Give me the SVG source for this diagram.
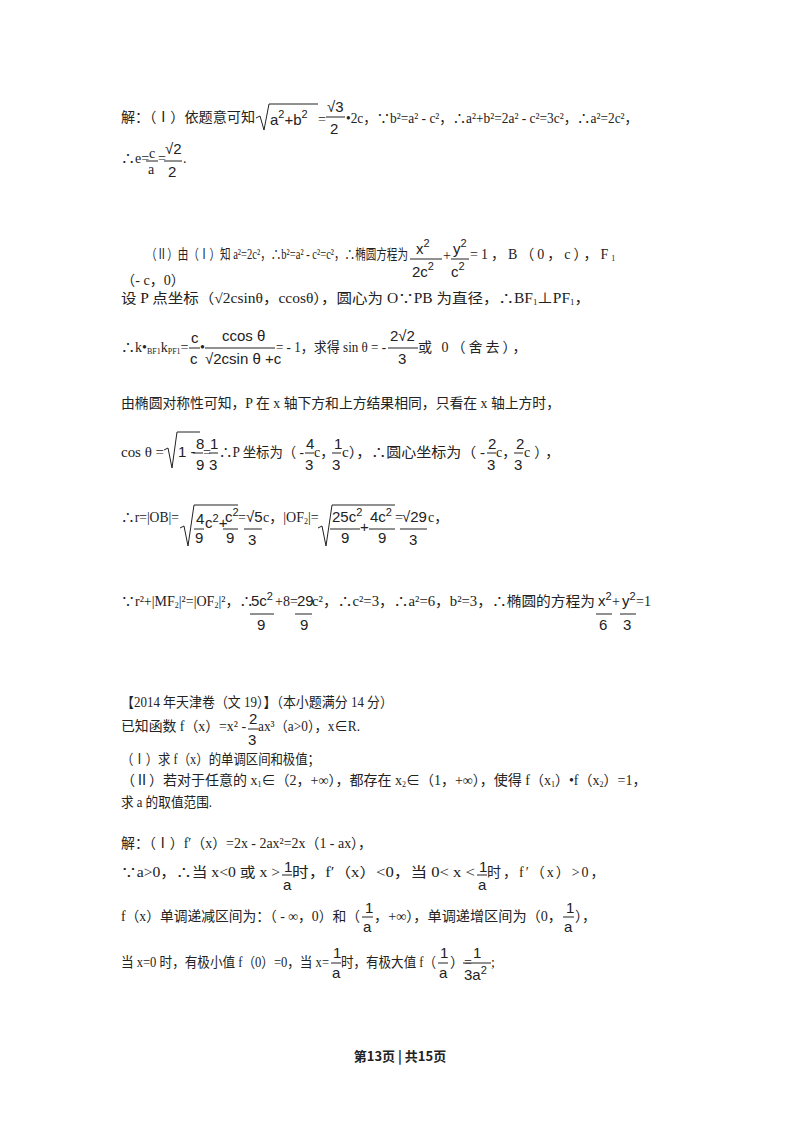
<svg xmlns="http://www.w3.org/2000/svg" width="800" height="1132" viewBox="0 0 800 1132">
<style>
text{font-family:"Liberation Serif","Noto Sans CJK SC",serif;font-size:14px;fill:#222}
.m{font-family:"Liberation Sans","Noto Sans CJK SC",sans-serif;font-size:15px}
.s{font-size:8px}
line{stroke:#222;stroke-width:1}
.f{font-family:"Noto Sans CJK SC",sans-serif;font-weight:bold;font-size:13px}
</style>
<rect width="800" height="1132" fill="#fff"/>
<text x="121" y="122" textLength="134" lengthAdjust="spacingAndGlyphs">解：（Ⅰ）依题意可知</text>
<path d="M256 118 L260 116 L264 130 L269 104 L318 104" fill="none" stroke="#222"/>
<text class="m" x="270" y="125">a<tspan dy="-7" font-size="11">2</tspan><tspan dy="7">+b</tspan><tspan dy="-7" font-size="11">2</tspan></text>
<text x="318" y="124">=</text>
<text class="m" x="327" y="112">√3</text><line x1="326" y1="117" x2="345" y2="117"/><text class="m" x="330" y="134">2</text>
<text x="346" y="123" textLength="292" lengthAdjust="spacingAndGlyphs">•2c，∵b²=a² - c²，∴a²+b²=2a² - c²=3c²，∴a²=2c²，</text>
<text x="121" y="163">∴e=</text><text x="149" y="158">c</text><line x1="146" y1="161" x2="158" y2="161"/><text x="148" y="174">a</text>
<text x="158" y="163">=</text><text class="m" x="165" y="154">√2</text><line x1="164" y1="161" x2="182" y2="161"/><text class="m" x="168" y="177">2</text><text x="183" y="163">.</text>
<text x="146" y="259" font-size="13" textLength="262" lengthAdjust="spacingAndGlyphs">（Ⅱ）由（Ⅰ）知 a²=2c²，∴b²=a² - c²=c²，∴椭圆方程为</text>
<text class="m" x="416" y="254">x<tspan dy="-7" font-size="11">2</tspan></text><line x1="410" y1="259" x2="442" y2="259"/><text class="m" x="412" y="277">2c<tspan dy="-7" font-size="11">2</tspan></text>
<text x="443" y="260" font-size="12">+</text>
<text class="m" x="453" y="254">y<tspan dy="-7" font-size="11">2</tspan></text><line x1="451" y1="259" x2="469" y2="259"/><text class="m" x="451" y="277">c<tspan dy="-7" font-size="11">2</tspan></text>
<text x="470" y="259" letter-spacing="3">=1，B（0，c），F<tspan class="s" dy="2" letter-spacing="0">1</tspan></text>
<text x="121" y="285" textLength="64" lengthAdjust="spacingAndGlyphs">（- c，0）</text>
<text x="121" y="303" textLength="469" lengthAdjust="spacingAndGlyphs">设 P 点坐标（√2csinθ，ccosθ），圆心为 O∵PB 为直径，∴BF<tspan class="s" dy="2">1</tspan><tspan dy="-2">⊥PF</tspan><tspan class="s" dy="2">1</tspan><tspan dy="-2">，</tspan></text>
<text x="121" y="352">∴k•<tspan class="s" dy="2">BF1</tspan><tspan dy="-2">k</tspan><tspan class="s" dy="2">PF1</tspan><tspan dy="-2">=</tspan></text>
<text class="m" x="191" y="343">c</text><line x1="189" y1="348" x2="200" y2="348"/><text class="m" x="190" y="364">c</text>
<text x="200" y="352">•</text>
<text class="m" x="222" y="341">ccos θ</text><line x1="205" y1="348" x2="275" y2="348"/><text class="m" x="205" y="364">√2csin θ +c</text>
<text x="276" y="352" textLength="110" lengthAdjust="spacingAndGlyphs">= - 1，求得 sin θ = -</text>
<text class="m" x="390" y="341">2√2</text><line x1="388" y1="348" x2="418" y2="348"/><text class="m" x="398" y="364">3</text>
<text x="418" y="352" letter-spacing="3">或 0（舍去），</text>
<text x="121" y="408" textLength="439" lengthAdjust="spacingAndGlyphs">由椭圆对称性可知，P 在 x 轴下方和上方结果相同，只看在 x 轴上方时，</text>
<text x="121" y="457" textLength="43" lengthAdjust="spacingAndGlyphs">cos θ =</text>
<path d="M164 450 L168 448 L172 468 L177 432 L200 432" fill="none" stroke="#222"/>
<text class="m" x="178" y="457">1 -</text>
<text class="m" x="196" y="449">8</text><line x1="193" y1="453" x2="203" y2="453"/><text class="m" x="196" y="470">9</text>
<text x="203" y="457">=</text><text class="m" x="210" y="449">1</text><line x1="209" y1="453" x2="218" y2="453"/><text class="m" x="209" y="470">3</text>
<text x="219" y="457" textLength="85" lengthAdjust="spacingAndGlyphs">∴P 坐标为（ -</text><text class="m" x="306" y="449">4</text><line x1="305" y1="453" x2="314" y2="453"/><text class="m" x="305" y="470">3</text>
<text x="314" y="457">c，</text><text class="m" x="334" y="449">1</text><line x1="332" y1="453" x2="341" y2="453"/><text class="m" x="332" y="470">3</text>
<text x="342" y="457" textLength="143" lengthAdjust="spacingAndGlyphs">c），∴圆心坐标为（ -</text><text class="m" x="488" y="449">2</text><line x1="487" y1="453" x2="496" y2="453"/><text class="m" x="487" y="470">3</text>
<text x="496" y="457">c，</text><text class="m" x="516" y="449">2</text><line x1="514" y1="453" x2="523" y2="453"/><text class="m" x="514" y="470">3</text>
<text x="524" y="457" letter-spacing="4">c），</text>
<text x="121" y="522" textLength="58" lengthAdjust="spacingAndGlyphs">∴r=|OB|=</text>
<path d="M180 528 L184 526 L188 546 L194 505 L238 505" fill="none" stroke="#222"/>
<text class="m" x="196" y="524">4</text><line x1="194" y1="529" x2="204" y2="529"/><text class="m" x="195" y="543">9</text>
<text class="m" x="205" y="528">c<tspan dy="-6" font-size="11">2</tspan><tspan dy="6">+</tspan></text>
<text class="m" x="225" y="522">c<tspan dy="-6" font-size="11">2</tspan></text><line x1="223" y1="529" x2="238" y2="529"/><text class="m" x="226" y="543">9</text>
<text x="238" y="522">=</text><text class="m" x="246" y="522">√5</text><line x1="244" y1="529" x2="262" y2="529"/><text class="m" x="248" y="545">3</text>
<text x="263" y="522">c，|OF<tspan class="s" dy="2">2</tspan><tspan dy="-2">|=</tspan></text>
<path d="M318 528 L322 526 L326 546 L332 505 L395 505" fill="none" stroke="#222"/>
<text class="m" x="332" y="522">25c<tspan dy="-6" font-size="11">2</tspan></text><line x1="330" y1="529" x2="360" y2="529"/><text class="m" x="341" y="543">9</text>
<text class="m" x="360" y="532">+</text>
<text class="m" x="370" y="522">4c<tspan dy="-6" font-size="11">2</tspan></text><line x1="369" y1="529" x2="395" y2="529"/><text class="m" x="378" y="543">9</text>
<text x="395" y="522">=</text><text class="m" x="402" y="522">√29</text><line x1="400" y1="529" x2="427" y2="529"/><text class="m" x="409" y="545">3</text>
<text x="428" y="522">c，</text>
<text x="121" y="606">∵r²+|MF<tspan class="s" dy="2">2</tspan><tspan dy="-2">|²=|OF</tspan><tspan class="s" dy="2">2</tspan><tspan dy="-2">|²，∴</tspan></text>
<text class="m" x="251" y="606">5c<tspan dy="-6" font-size="11">2</tspan></text><line x1="250" y1="614" x2="274" y2="614"/><text class="m" x="257" y="630">9</text>
<text x="275" y="606">+8=</text>
<text class="m" x="297" y="606">29</text><line x1="295" y1="614" x2="312" y2="614"/><text class="m" x="300" y="630">9</text>
<text x="312" y="606" textLength="283" lengthAdjust="spacingAndGlyphs">c²，∴c²=3，∴a²=6，b²=3，∴椭圆的方程为</text>
<text class="m" x="598" y="606">x<tspan dy="-6" font-size="11">2</tspan></text><line x1="596" y1="614" x2="612" y2="614"/><text class="m" x="599" y="630">6</text>
<text x="612" y="606">+</text>
<text class="m" x="622" y="606">y<tspan dy="-6" font-size="11">2</tspan></text><line x1="620" y1="614" x2="636" y2="614"/><text class="m" x="623" y="630">3</text>
<text x="636" y="606">=1</text>
<text x="121" y="707" textLength="272" lengthAdjust="spacingAndGlyphs">【2014 年天津卷（文 19）】（本小题满分 14 分）</text>
<text x="121" y="731" textLength="125" lengthAdjust="spacingAndGlyphs">已知函数 f（x）=x² -</text>
<text class="m" x="249" y="724">2</text><line x1="248" y1="729" x2="258" y2="729"/><text class="m" x="248" y="745">3</text>
<text x="258" y="731" textLength="102" lengthAdjust="spacingAndGlyphs">ax³（a&gt;0），x∈R.</text>
<text x="121" y="764" textLength="199" lengthAdjust="spacingAndGlyphs">（Ⅰ）求 f（x）的单调区间和极值；</text>
<text x="121" y="785">（Ⅱ）若对于任意的 x<tspan class="s" dy="2">1</tspan><tspan dy="-2">∈（2，+∞），都存在 x</tspan><tspan class="s" dy="2">2</tspan><tspan dy="-2">∈（1，+∞），使得 f（x</tspan><tspan class="s" dy="2">1</tspan><tspan dy="-2">）•f（x</tspan><tspan class="s" dy="2">2</tspan><tspan dy="-2">）=1，</tspan></text>
<text x="121" y="807" textLength="91" lengthAdjust="spacingAndGlyphs">求 a 的取值范围.</text>
<text x="121" y="848" textLength="251" lengthAdjust="spacingAndGlyphs">解：（Ⅰ）f′（x）=2x - 2ax²=2x（1 - ax），</text>
<text x="121" y="877" textLength="159" lengthAdjust="spacingAndGlyphs">∵a&gt;0，∴当 x&lt;0 或 x &gt;</text>
<text class="m" x="284" y="872">1</text><line x1="282" y1="875" x2="292" y2="875"/><text class="m" x="283" y="890">a</text>
<text x="292" y="877" textLength="183" lengthAdjust="spacingAndGlyphs">时，f′（x）&lt;0，当 0&lt; x &lt;</text>
<text class="m" x="479" y="872">1</text><line x1="477" y1="875" x2="487" y2="875"/><text class="m" x="478" y="890">a</text>
<text x="487" y="877" letter-spacing="2">时，f′（x）&gt;0，</text>
<text x="121" y="921" textLength="239" lengthAdjust="spacingAndGlyphs">f（x）单调递减区间为：（ - ∞，0）和（</text>
<text class="m" x="365" y="913">1</text><line x1="362" y1="917" x2="373" y2="917"/><text class="m" x="363" y="932">a</text>
<text x="374" y="921" textLength="188" lengthAdjust="spacingAndGlyphs">，+∞），单调递增区间为（0，</text>
<text class="m" x="566" y="913">1</text><line x1="563" y1="917" x2="574" y2="917"/><text class="m" x="564" y="932">a</text>
<text x="575" y="921">），</text>
<text x="121" y="967" textLength="208" lengthAdjust="spacingAndGlyphs">当 x=0 时，有极小值 f（0）=0，当 x=</text>
<text class="m" x="333" y="958">1</text><line x1="331" y1="963" x2="341" y2="963"/><text class="m" x="332" y="978">a</text>
<text x="341" y="967" textLength="95" lengthAdjust="spacingAndGlyphs">时，有极大值 f（</text>
<text class="m" x="440" y="958">1</text><line x1="438" y1="963" x2="448" y2="963"/><text class="m" x="439" y="978">a</text>
<text x="450" y="967">）=</text>
<text class="m" x="473" y="958">1</text><line x1="463" y1="963" x2="491" y2="963"/><text class="m" x="464" y="980">3a<tspan dy="-6" font-size="11">2</tspan></text>
<text x="491" y="967">;</text>
<text class="f" x="400" y="1061" text-anchor="middle">第13页 | 共15页</text>
</svg>
